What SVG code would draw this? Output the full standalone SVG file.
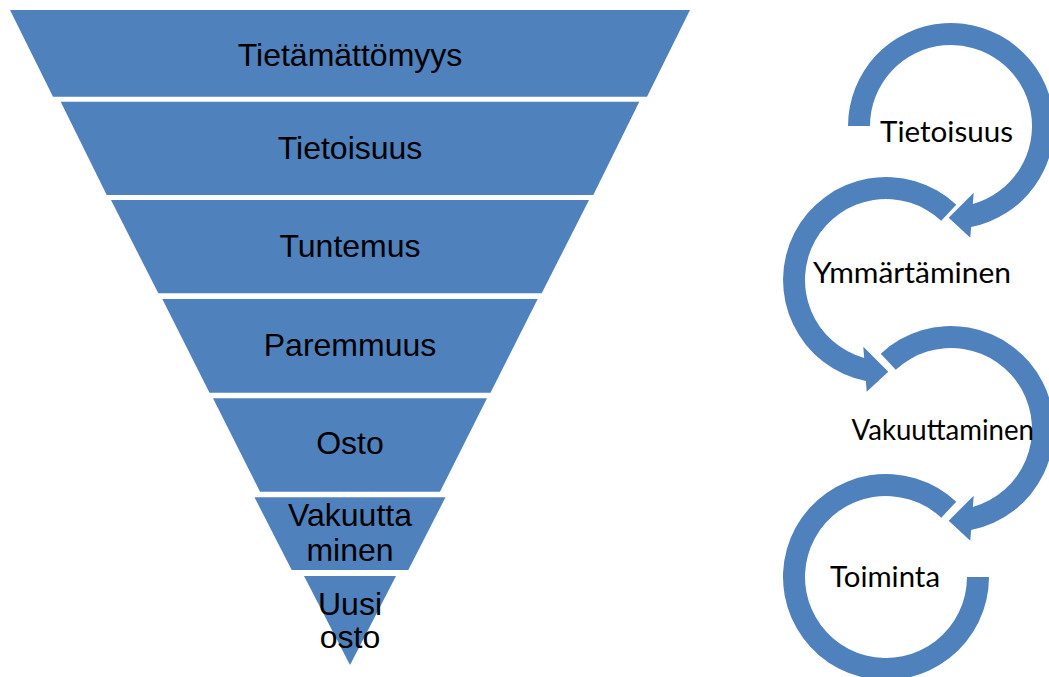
<svg xmlns="http://www.w3.org/2000/svg" width="1049" height="677" viewBox="0 0 1049 677">
  <style>
    .band { fill: #4F81BD; }
    .ring { fill: #4F81BD; }
    .ftxt { font-family: "Liberation Sans", Arial, sans-serif; font-size: 32px; fill: #000; text-anchor: middle; }
    .ctxt { font-family: Lato, "Open Sans", sans-serif; font-size: 28px; fill: #000; }
  </style>
  <rect width="1049" height="677" fill="#FFFFFF"/>

  <!-- inverted funnel, one band per stage -->
  <g id="funnel">
    <g id="stage-tietamattomyys">
      <polygon class="band" points="10,10 690,10 647,96.7 53,96.7"/>
      <text class="ftxt" x="350" y="66">Tietämättömyys</text>
    </g>
    <g id="stage-tietoisuus">
      <polygon class="band" points="60.7,101.7 639.3,101.7 593.3,195 106.7,195"/>
      <text class="ftxt" x="350" y="159">Tietoisuus</text>
    </g>
    <g id="stage-tuntemus">
      <polygon class="band" points="111,200 589,200 541.7,293.3 158.3,293.3"/>
      <text class="ftxt" x="350" y="257">Tuntemus</text>
    </g>
    <g id="stage-paremmuus">
      <polygon class="band" points="162.3,299 537.7,299 490.5,392.7 209.5,392.7"/>
      <text class="ftxt" x="350" y="356">Paremmuus</text>
    </g>
    <g id="stage-osto">
      <polygon class="band" points="213,398.3 487,398.3 440,491.7 260,491.7"/>
      <text class="ftxt" x="350" y="454">Osto</text>
    </g>
    <g id="stage-vakuuttaminen">
      <polygon class="band" points="254.5,497.3 445.5,497.3 408.3,570 291.7,570"/>
      <text class="ftxt" x="350" y="526">Vakuutta</text>
      <text class="ftxt" x="350" y="561">minen</text>
    </g>
    <g id="stage-uusi-osto">
      <polygon class="band" points="304,576 396,576 350,665"/>
      <text class="ftxt" x="350" y="615">Uusi</text>
      <text class="ftxt" x="350" y="648">osto</text>
    </g>
  </g>

  <!-- chain of circular arrows -->
  <g id="connectors">
    <path id="arc-tietoisuus" class="ring"
      d="M848,126 A103,103 0 1 1 971.1,227.05 L970.3,237.7 L948.7,217.7 L973.7,192.7 L972.84,204 A81,81 0 1 0 870,126 Z"/>
    <path id="arc-ymmartaminen" class="ring"
      d="M956.25,204.67 A103,103 0 1 0 865.9,381.05 L866.7,391.7 L888.3,371.7 L863.3,346.7 L864.16,358 A81,81 0 1 1 941.24,220.76 Z"/>
    <path id="arc-vakuuttaminen" class="ring"
      d="M880.75,353.67 A103,103 0 1 1 971.1,530.05 L970.3,540.7 L948.7,520.7 L973.7,495.7 L972.84,507 A81,81 0 1 0 895.76,369.76 Z"/>
    <path id="arc-toiminta" class="ring"
      d="M989,577 A103,103 0 1 1 956.25,501.67 L941.24,517.76 A81,81 0 1 0 967,577 Z"/>
  </g>

  <g id="step-tietoisuus">
    <text class="ctxt" x="880" y="142" textLength="133" lengthAdjust="spacingAndGlyphs">Tietoisuus</text>
  </g>
  <g id="step-ymmartaminen">
    <text class="ctxt" x="813" y="283" textLength="198" lengthAdjust="spacingAndGlyphs">Ymmärtäminen</text>
  </g>
  <g id="step-vakuuttaminen">
    <text class="ctxt" x="851.5" y="440" font-size="26" textLength="182.5" lengthAdjust="spacingAndGlyphs">Vakuuttaminen</text>
  </g>
  <g id="step-toiminta">
    <text class="ctxt" x="830" y="587" textLength="110" lengthAdjust="spacingAndGlyphs">Toiminta</text>
  </g>
</svg>
